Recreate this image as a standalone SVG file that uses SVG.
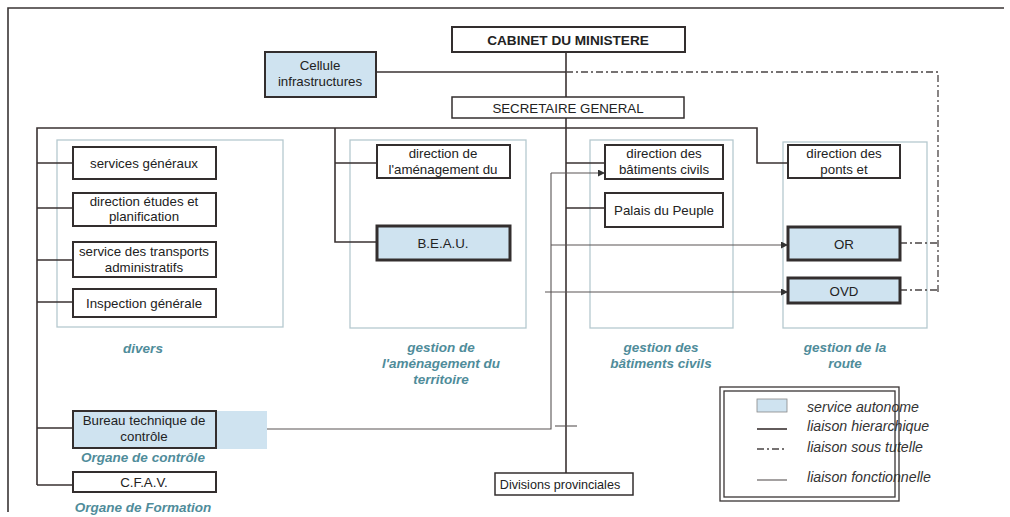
<svg xmlns="http://www.w3.org/2000/svg" width="1010" height="517" viewBox="0 0 1010 517">
  <style>
    .bg { fill: #ffffff; }
    .frame { fill: none; stroke: #3a3535; stroke-width: 1.6; }
    .box { fill: #ffffff; stroke: #332e2e; stroke-width: 2; }
    .box.thin { stroke-width: 1.5; }
    .box.heavy { stroke-width: 3; }
    .auto { fill: #cfe3f0; }
    .panel { fill: none; stroke: #b6c9cf; stroke-width: 1.3; }
    .hier { fill: none; stroke: #3a3232; stroke-width: 1.6; }
    .tutelle { fill: none; stroke: #4a4444; stroke-width: 1.3; stroke-dasharray: 7 3 2 3; }
    .fonc { fill: none; stroke: #5a5555; stroke-width: 1.1; }
    .t { font-family: "Liberation Sans", Arial, sans-serif; font-size: 13.3px; fill: #222; text-anchor: middle; }
    .tb { font-weight: bold; font-size: 13.6px; }
    .cap { font-family: "Liberation Sans", Arial, sans-serif; font-size: 13.5px; font-style: italic; font-weight: bold; fill: #4f8c9a; text-anchor: middle; }
    .leg { font-family: "Liberation Sans", Arial, sans-serif; font-size: 14.2px; font-style: italic; fill: #333; }
  </style>
  <defs>
    <marker id="arr" viewBox="0 0 10 10" refX="10" refY="5" markerWidth="7" markerHeight="7" orient="auto" markerUnits="userSpaceOnUse">
      <path d="M0,0 L10,5 L0,10 z" fill="#333"/>
    </marker>
  </defs>

  <rect class="bg" x="0" y="0" width="1010" height="517"/>
  <!-- outer frame -->
  <path class="frame" d="M8,512 V8 H1004"/>

  <!-- grouping panels -->
  <g id="panels">
    <rect class="panel" x="57" y="140" width="226" height="187"/>
    <rect class="panel" x="350" y="140" width="176" height="188"/>
    <rect class="panel" x="590" y="140" width="143" height="188"/>
    <rect class="panel" x="783" y="142" width="144" height="186"/>
  </g>

  <!-- connectors -->
  <g id="connectors">
    <!-- hierarchical links -->
    <path class="hier" d="M566,52 V473"/>
    <path class="hier" d="M376,72 H566"/>
    <path class="hier" d="M37,485 V128 H757 V163 H788"/>
    <path class="hier" d="M37,163 H73 M37,208 H73 M37,260 H73 M37,302 H73 M37,428 H73 M37,485 H73"/>
    <path class="hier" d="M335,128 V242 H377 M335,163 H377"/>
    <path class="hier" d="M566,163 H605 M566,208 H605"/>
    <!-- supervision links -->
    <path class="tutelle" d="M566,72 H938 V292"/>
    <path class="tutelle" d="M900,243 H938 M900,290 H938"/>
    <!-- functional links -->
    <path class="fonc" d="M266,429 H551 V173" />
    <path class="fonc" d="M551,173 H605" marker-end="url(#arr)"/>
    <path class="fonc" d="M551,245 H788" marker-end="url(#arr)"/>
    <path class="fonc" d="M545,292 H788" marker-end="url(#arr)"/>
    <path class="fonc" d="M555,426 H577"/>
  </g>

  <!-- top management -->
  <g id="cabinet">
    <rect class="box" x="452" y="27" width="233" height="25"/>
    <text class="t tb" x="568" y="44.5">CABINET DU MINISTERE</text>
  </g>
  <g id="cellule">
    <rect class="box auto" x="265" y="52" width="111" height="45"/>
    <text class="t" x="320" y="70">Cellule</text>
    <text class="t" x="320" y="86">infrastructures</text>
  </g>
  <g id="secretaire">
    <rect class="box thin" x="452" y="97" width="232" height="21"/>
    <text class="t" x="568" y="112.5">SECRETAIRE GENERAL</text>
  </g>

  <!-- divers -->
  <g id="services-generaux">
    <rect class="box" x="73" y="147" width="143" height="32"/>
    <text class="t" x="144" y="168">services généraux</text>
  </g>
  <g id="etudes-planification">
    <rect class="box" x="73" y="193" width="143" height="33"/>
    <text class="t" x="144" y="206">direction études et</text>
    <text class="t" x="144" y="221">planification</text>
  </g>
  <g id="transports">
    <rect class="box" x="73" y="242" width="143" height="35"/>
    <text class="t" x="144" y="256">service des transports</text>
    <text class="t" x="144" y="272">administratifs</text>
  </g>
  <g id="inspection">
    <rect class="box" x="73" y="289" width="143" height="28"/>
    <text class="t" x="144" y="308">Inspection générale</text>
  </g>
  <text class="cap" x="143" y="353">divers</text>

  <!-- aménagement du territoire -->
  <g id="direction-amenagement">
    <rect class="box" x="377" y="145" width="133" height="33"/>
    <text class="t" x="443" y="158">direction de</text>
    <text class="t" x="443" y="174">l'aménagement du</text>
  </g>
  <g id="beau">
    <rect class="box heavy auto" x="377" y="226" width="133" height="34"/>
    <text class="t" x="443" y="248">B.E.A.U.</text>
  </g>
  <g id="cap-amenagement">
    <text class="cap" x="441" y="352">gestion de</text>
    <text class="cap" x="441" y="368">l'aménagement du</text>
    <text class="cap" x="441" y="384">territoire</text>
  </g>

  <!-- bâtiments civils -->
  <g id="direction-batiments">
    <rect class="box" x="605" y="145" width="118" height="34"/>
    <text class="t" x="664" y="158">direction des</text>
    <text class="t" x="664" y="174">bâtiments civils</text>
  </g>
  <g id="palais">
    <rect class="box" x="605" y="193" width="118" height="34"/>
    <text class="t" x="664" y="215">Palais du Peuple</text>
  </g>
  <g id="cap-batiments">
    <text class="cap" x="661" y="352">gestion des</text>
    <text class="cap" x="661" y="368">bâtiments civils</text>
  </g>

  <!-- route -->
  <g id="direction-ponts">
    <rect class="box" x="788" y="145" width="112" height="33"/>
    <text class="t" x="844" y="158">direction des</text>
    <text class="t" x="844" y="174">ponts et</text>
  </g>
  <g id="or">
    <rect class="box heavy auto" x="788" y="227" width="112" height="33"/>
    <text class="t" x="844" y="248.5">OR</text>
  </g>
  <g id="ovd">
    <rect class="box heavy auto" x="788" y="278" width="112" height="25"/>
    <text class="t" x="844" y="295.5">OVD</text>
  </g>
  <g id="cap-route">
    <text class="cap" x="845" y="352">gestion de la</text>
    <text class="cap" x="845" y="368">route</text>
  </g>

  <!-- control and training -->
  <g id="bureau-technique">
    <rect class="auto" x="73" y="411" width="194" height="38"/>
    <rect class="box" x="73" y="411" width="143" height="37" style="fill:none"/>
    <text class="t" x="144" y="425">Bureau technique de</text>
    <text class="t" x="144" y="441">contrôle</text>
  </g>
  <text class="cap" x="143" y="462">Organe de contrôle</text>
  <g id="cfav">
    <rect class="box" x="73" y="472" width="143" height="20"/>
    <text class="t" x="144" y="487">C.F.A.V.</text>
  </g>
  <text class="cap" x="143" y="512">Organe de Formation</text>

  <g id="divisions">
    <rect class="box thin" x="495" y="473" width="138" height="22"/>
    <text class="t" x="560" y="488.5" style="font-size:12.6px">Divisions provinciales</text>
  </g>

  <!-- legend -->
  <g id="legend">
    <rect x="720" y="387" width="179" height="114" fill="#fff" stroke="#3a3535" stroke-width="1.3"/>
    <rect x="724" y="391" width="171" height="106" fill="none" stroke="#3a3535" stroke-width="1.3"/>
    <rect x="757" y="399" width="30" height="13" fill="#cfe3f0" stroke="#888" stroke-width="0.8"/>
    <text class="leg" x="807" y="412">service autonome</text>
    <line class="hier" x1="757" y1="429" x2="787" y2="429"/>
    <text class="leg" x="807" y="431">liaison hierarchique</text>
    <line class="tutelle" x1="757" y1="449" x2="787" y2="449"/>
    <text class="leg" x="807" y="452">liaison  sous tutelle</text>
    <line class="fonc" x1="757" y1="480" x2="787" y2="480"/>
    <text class="leg" x="807" y="482">liaison fonctionnelle</text>
  </g>
</svg>
